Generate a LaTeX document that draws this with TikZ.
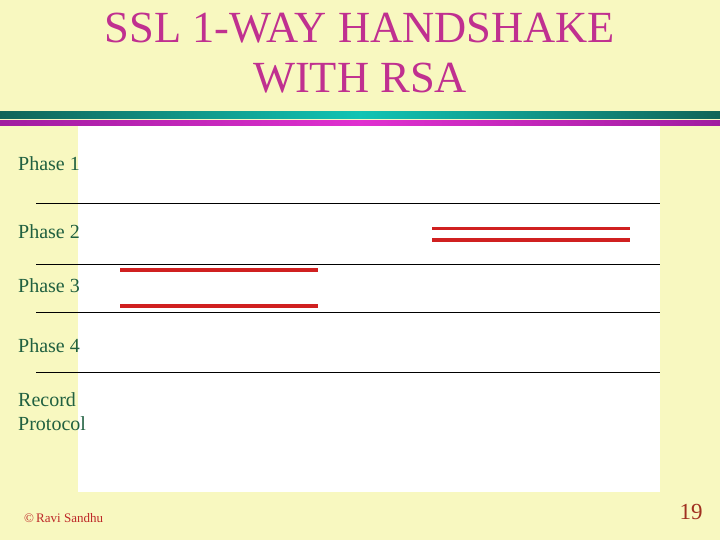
\documentclass[tikz,border=0pt]{standalone}
\usepackage{fontspec}
\setmainfont{Liberation Serif}
\definecolor{bg}{RGB}{248,248,192}
\definecolor{titlec}{RGB}{192,48,144}
\definecolor{tealdark}{RGB}{16,100,88}
\definecolor{tealmid}{RGB}{16,196,180}
\definecolor{purpdark}{RGB}{160,28,160}
\definecolor{purpmid}{RGB}{224,48,208}
\definecolor{labelc}{RGB}{32,96,64}
\definecolor{redl}{RGB}{208,32,32}
\definecolor{footc}{RGB}{190,40,40}
\definecolor{numc}{RGB}{160,48,32}
\tikzset{
  phaselbl/.style={anchor=west, inner sep=0pt, text=labelc, font=\fontsize{20}{24}\selectfont, align=left},
  sepline/.style={draw=black, line width=1pt},
  redline/.style={draw=redl, line width=3.2pt},
}
\begin{document}
\begin{tikzpicture}[x=1pt,y=-1pt]
\useasboundingbox (0,0) rectangle (720,540);
\fill[bg] (0,0) rectangle (720,540);
% title
\node (t1) [text=titlec, font=\fontsize{44.5}{48}\selectfont, inner sep=0pt] at (360,28) {SSL 1-WAY HANDSHAKE};
\node (t2) [text=titlec, font=\fontsize{44.5}{48}\selectfont, inner sep=0pt] at (360,78) {WITH RSA};
% bars
\shade[left color=tealdark, right color=tealdark, middle color=tealmid] (0,111.5) rectangle (720,118.5);
\shade[left color=purpdark, right color=purpdark, middle color=purpmid] (0,121) rectangle (720,125.5);
% white panel
\fill[white] (78,126) rectangle (660,492);
% labels
\node (p1) [phaselbl] at (18,164) {Phase 1};
\node (p2) [phaselbl] at (18,232) {Phase 2};
\node (p3) [phaselbl] at (18,286) {Phase 3};
\node (p4) [phaselbl] at (18,346) {Phase 4};
\node (rp) [phaselbl] at (18,412) {Record\\Protocol};
% separators
\draw[sepline] (36,204) -- (660,204);
\draw[sepline] (36,264.3) -- (660,264.3);
\draw[sepline] (36,312.3) -- (660,312.3);
\draw[sepline] (36,372.3) -- (660,372.3);
% red lines
\draw[redline] (432,228.3) -- (630,228.3);
\draw[redline] (432,240) -- (630,240);
\draw[redline] (120,270) -- (318,270);
\draw[redline] (120,306) -- (318,306);
% footer
\node (copy) [anchor=west, inner sep=0pt, text=footc, font=\fontsize{13}{15}\selectfont] at (24,518) {\textcopyright\,Ravi Sandhu};
\node (num) [inner sep=0pt, text=numc, font=\fontsize{23}{26}\selectfont] at (691,512) {19};
\end{tikzpicture}
\end{document}
